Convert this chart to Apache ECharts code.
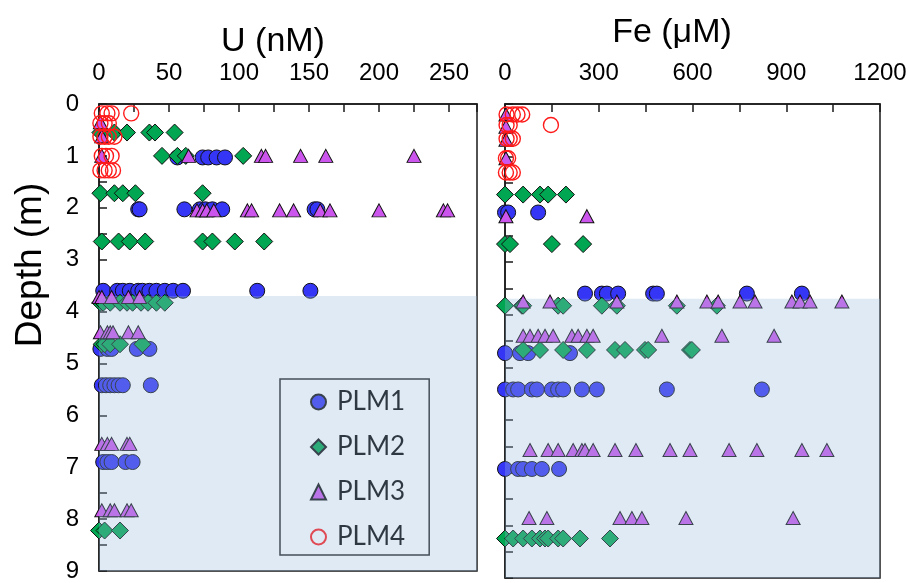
<!DOCTYPE html>
<html>
<head>
<meta charset="utf-8">
<script src="https://cdn.jsdelivr.net/npm/echarts@6/dist/echarts.min.js"></script>
<style>
html,body{margin:0;padding:0;background:#fff;}
#chart{width:910px;height:583px;}
</style>
</head>
<body>
<div id="chart"></div>
<script>
// ---------- DATA ([value, depth m]) ----------
const uTicksMajor = [0, 50, 100, 150, 200, 250];
const feTicksMajor = [0, 300, 600, 900, 1200];
const shadeDepth = [3.7, 9];

const uPLM1 = [
  [56,1.03],[74,1.03],[78,1.03],[84,1.03],[90,1.03],
  [28,2.03],[29,2.03],[61,2.03],[72,2.03],[76,2.03],[81,2.03],[88,2.03],[154,2.03],[156,2.03],
  [3,3.6],[13,3.6],[17,3.6],[22,3.6],[28,3.6],[31,3.6],[36,3.6],[41,3.6],[47,3.6],[53,3.6],[60,3.6],[113,3.6],[151,3.6],
  [1,4.72],[6,4.72],[9,4.72],[27,4.72],[36,4.72],
  [2,5.42],[5,5.42],[8,5.42],[11,5.42],[14,5.42],[17,5.42],[37,5.42],
  [3,6.9],[6,6.9],[9,6.9],[19,6.9],[24,6.9]
];
const uPLM2 = [
  [1,0.55],[11,0.55],[20,0.55],[36,0.55],[40,0.55],[54,0.55],
  [45,1.0],[56,1.0],[62,1.0],[103,1.0],
  [1,1.72],[11,1.72],[17,1.72],[26,1.72],[74,1.72],
  [2,2.65],[14,2.65],[22,2.65],[33,2.65],[74,2.65],[81,2.65],[97,2.65],[118,2.65],
  [1,3.83],[3,3.83],[8,3.83],[15,3.83],[20,3.83],[24,3.83],[30,3.83],[35,3.83],[41,3.83],[47,3.83],
  [2,4.63],[4,4.63],[8,4.63],[15,4.63],[31,4.63],
  [0,8.22],[4,8.22],[15,8.22]
];
const uPLM3 = [
  [1,0.35],[2,0.62],[2,1.0],
  [64,1.0],[116,1.0],[119,1.0],[144,1.0],[162,1.0],[225,1.0],
  [70,2.05],[74,2.05],[77,2.05],[82,2.05],[106,2.05],[109,2.05],[129,2.05],[139,2.05],[158,2.05],[165,2.05],[200,2.05],[246,2.05],[249,2.05],
  [0,3.72],[2,3.72],[9,3.72],[21,3.72],[29,3.72],
  [1,4.4],[6,4.4],[8,4.4],[10,4.4],[21,4.4],[28,4.4],
  [2,6.55],[6,6.55],[9,6.55],[20,6.55],[22,6.55],
  [2,7.83],[8,7.83],[11,7.83],[20,7.83],[23,7.83]
];
const uPLM4 = [
  [2,0.18],[6,0.18],[9,0.18],[23,0.18],
  [1,0.37],[4,0.37],[7,0.37],
  [1,0.63],[4,0.63],[7,0.63],[11,0.63],
  [2,1.0],[5,1.0],[9,1.0],
  [1,1.28],[4,1.28],[7,1.28],[10,1.28]
];

const fePLM1 = [
  [0,2.06],[10,2.06],[106,2.06],
  [256,3.6],[310,3.6],[326,3.6],[362,3.6],[474,3.6],[486,3.6],[774,3.6],[950,3.6],
  [0,4.73],[48,4.73],[74,4.73],[208,4.73],
  [0,5.42],[26,5.42],[42,5.42],[86,5.42],[102,5.42],[150,5.42],[170,5.42],[186,5.42],[246,5.42],[294,5.42],[518,5.42],[822,5.42],
  [0,6.93],[42,6.93],[58,6.93],[86,6.93],[118,6.93],[173,6.93]
];
const fePLM2 = [
  [0,1.72],[58,1.72],[112,1.72],[138,1.72],[195,1.72],
  [0,2.66],[16,2.66],[150,2.66],[250,2.66],
  [0,3.83],[54,3.83],[58,3.83],[170,3.83],[186,3.83],[310,3.83],[358,3.83],[550,3.83],[678,3.83],
  [58,4.67],[112,4.67],[186,4.67],[262,4.67],[352,4.67],[384,4.67],[448,4.67],[458,4.67],[592,4.67],[598,4.67],
  [0,8.25],[26,8.25],[58,8.25],[86,8.25],[112,8.25],[128,8.25],[138,8.25],[170,8.25],[186,8.25],[240,8.25],[336,8.25]
];
const fePLM3 = [
  [3,0.2],[3,0.43],[3,0.68],[3,1.03],[3,2.13],[262,2.13],
  [58,3.75],[144,3.75],[358,3.75],[550,3.75],[646,3.75],[682,3.75],[752,3.75],[800,3.75],[918,3.75],[944,3.75],[976,3.75],[1078,3.75],
  [58,4.4],[80,4.4],[106,4.4],[128,4.4],[154,4.4],[214,4.4],[234,4.4],[262,4.4],[282,4.4],[502,4.4],[694,4.4],[861,4.4],
  [80,6.57],[138,6.57],[170,6.57],[218,6.57],[246,6.57],[256,6.57],[282,6.57],[352,6.57],[419,6.57],[528,6.57],[592,6.57],[717,6.57],[806,6.57],[950,6.57],[1030,6.57],
  [77,7.86],[134,7.86],[368,7.86],[406,7.86],[438,7.86],[579,7.86],[922,7.86]
];
const fePLM4 = [
  [5,0.2],[25,0.2],[40,0.2],[55,0.2],
  [5,0.4],[15,0.4],[147,0.4],
  [5,0.66],[15,0.66],[25,0.66],
  [3,1.03],[10,1.03],
  [3,1.3],[15,1.3],[25,1.3]
];

// ---------- STYLE ----------
const FONT = 'Liberation Sans, Arial, sans-serif';
const AXC = '#1a1a1a';
const styles = {
  PLM1: {symbol:'circle', symbolSize:15, itemStyle:{color:'#3535f5', borderColor:'#111', borderWidth:1, opacity:1}},
  PLM2: {symbol:'diamond', symbolSize:17, itemStyle:{color:'#00a651', borderColor:'#111', borderWidth:1, opacity:1}},
  PLM3: {symbol:'triangle', symbolSize:[14,13], itemStyle:{color:'#cc55ee', borderColor:'#111', borderWidth:1, opacity:1}},
  PLM4: {symbol:'circle', symbolSize:15, itemStyle:{color:'rgba(255,255,255,0)', borderColor:'#ff1a1a', borderWidth:1.4, opacity:1}}
};

function sc(name, data, idx){
  const s = styles[name];
  return {
    name: name, type:'scatter', xAxisIndex: idx, yAxisIndex: idx,
    data: data, symbol: s.symbol, symbolSize: s.symbolSize, itemStyle: s.itemStyle,
    silent: true, animation:false, z: 3
  };
}
function shade(idx){
  return {
    type:'custom', xAxisIndex: idx, yAxisIndex: idx, silent:true, z: 10, animation:false,
    data: [[0, shadeDepth[0], shadeDepth[1]]],
    encode: {x: 0, y: 1},
    renderItem: function(params, api){
      const cs = params.coordSys;
      const yTop = api.coord([0, api.value(1)])[1];
      const yBot = api.coord([0, api.value(2)])[1];
      return {type:'rect', shape:{x: cs.x, y: yTop, width: cs.width, height: yBot - yTop},
              style:{fill:'rgba(148,185,218,0.3)'}};
    }
  };
}

function xAx(idx, max, minor, majorList){
  return {
    type:'value', gridIndex: idx, position:'top', min:0, max:max, interval: minor,
    axisLine:{show:true, lineStyle:{color:AXC, width:1.5}},
    axisTick:{show:true, inside:true, length:8, lineStyle:{color:AXC, width:1.5}},
    axisLabel:{show:true, margin:19, fontSize:24, fontFamily:FONT, color:'#000',
      formatter: function(v){ return majorList.indexOf(v) >= 0 ? String(v) : ''; }},
    splitLine:{show:false}
  };
}
function yAx(idx, showLabels){
  return {
    type:'value', gridIndex: idx, inverse:true, min:0, max:9, interval:0.5,
    axisLine:{show:true, lineStyle:{color:AXC, width:1.5}},
    axisTick:{show:true, inside:true, length:8, lineStyle:{color:AXC, width:1.5}},
    axisLabel:{show:showLabels, margin:20, fontSize:24, fontFamily:FONT, color:'#000',
      formatter: function(v){ return (Math.abs(v - Math.round(v)) < 1e-6) ? String(Math.round(v)) : ''; }},
    splitLine:{show:false}
  };
}

const chart = echarts.init(document.getElementById('chart'), null, {renderer:'canvas'});
chart.setOption({
  backgroundColor:'#ffffff',
  animation:false,
  title:[
    {text:'U (nM)', left:268, top:20, textAlign:'center', textStyle:{fontSize:34, fontWeight:'normal', fontFamily:FONT, color:'#000'}},
    {text:'Fe (μM)', left:667, top:11, textAlign:'center', textStyle:{fontSize:34, fontWeight:'normal', fontFamily:FONT, color:'#000'}}
  ],
  graphic:[
    {type:'text', x:31, y:265, rotation:Math.PI/2, silent:true,
     style:{text:'Depth (m)', fontSize:37, fontFamily:FONT, fill:'#000', align:'center', verticalAlign:'middle'}}
  ],
  grid:[
    {left:99, top:104, width:378, height:474, show:true, borderColor:AXC, borderWidth:1.5, backgroundColor:'transparent'},
    {left:505, top:104, width:375, height:474, show:true, borderColor:AXC, borderWidth:1.5, backgroundColor:'transparent'}
  ],
  xAxis:[ xAx(0, 270, 25, uTicksMajor), xAx(1, 1200, 150, feTicksMajor) ],
  yAxis:[ yAx(0, true), yAx(1, false) ],
  legend:{
    data:['PLM1','PLM2','PLM3','PLM4'],
    orient:'vertical', left:280, top:379,
    padding:[9, 24, 4, 30],
    itemWidth:15, itemHeight:15, itemGap:17,
    borderColor:'#222', borderWidth:1.5, backgroundColor:'#fff',
    textStyle:{fontSize:26, lineHeight:28, fontFamily:'Lato, Open Sans, sans-serif', color:'#000', padding:[0,0,0,6]},
    selectedMode:false
  },
  series:[
    sc('PLM1', uPLM1, 0), sc('PLM2', uPLM2, 0), sc('PLM3', uPLM3, 0), sc('PLM4', uPLM4, 0),
    sc('PLM1', fePLM1, 1), sc('PLM2', fePLM2, 1), sc('PLM3', fePLM3, 1), sc('PLM4', fePLM4, 1),
    shade(0), shade(1)
  ]
});
</script>
</body>
</html>
